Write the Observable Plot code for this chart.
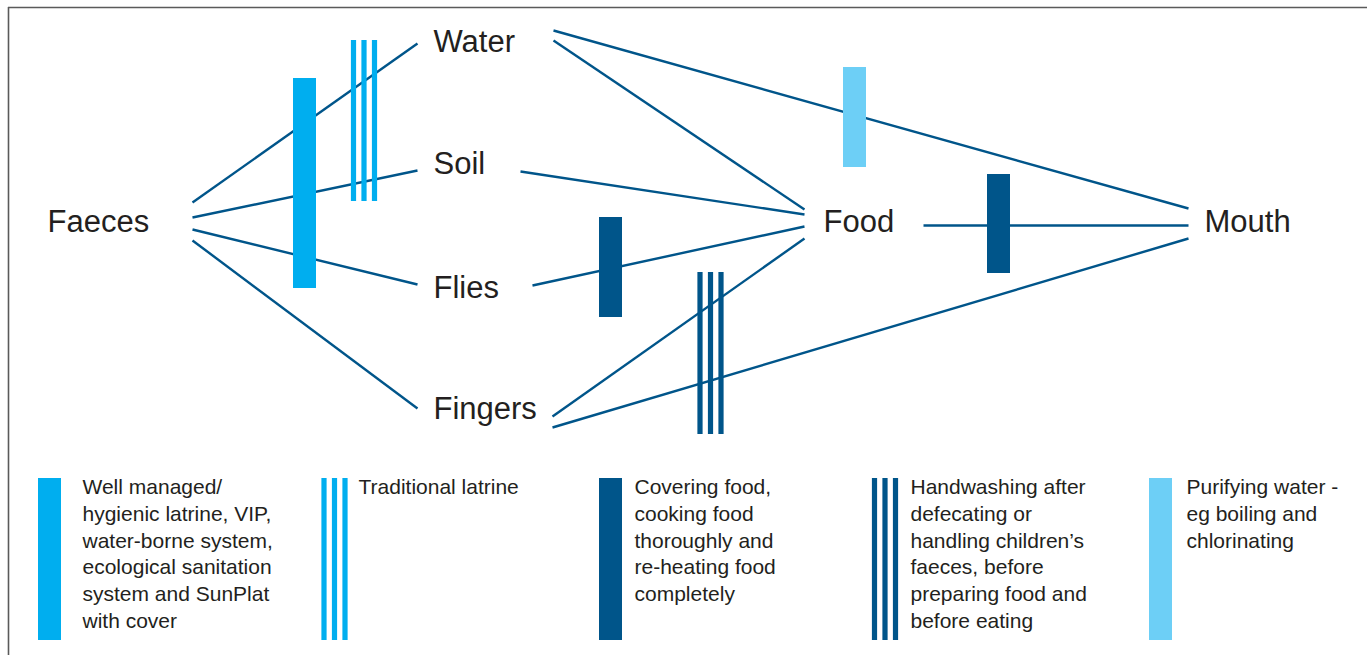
<!DOCTYPE html>
<html>
<head>
<meta charset="utf-8">
<script src="https://cdn.jsdelivr.net/npm/d3@7"></script>
<script src="https://cdn.jsdelivr.net/npm/@observablehq/plot@0.6"></script>
<style>
  html, body { margin: 0; padding: 0; background: #fff; }
  #chart svg { display: block; }
</style>
</head>
<body>
<div id="chart"></div>
<script>
// ---- Nodes of the F-diagram (label, anchor x, centre y in diagram units)
const nodeNames = ["Faeces", "Water", "Soil", "Flies", "Fingers", "Food", "Mouth"];
const nodeX = [47, 433, 433, 433, 433, 823, 1204];
const nodeY = [221.5, 41.5, 164, 287.5, 409, 221.5, 221.5];

// ---- Transmission routes (from, to, endpoints)
const linkFrom = ["Faeces", "Faeces", "Faeces", "Faeces", "Water", "Water", "Soil", "Flies", "Fingers", "Fingers", "Food"];
const linkTo   = ["Water", "Soil", "Flies", "Fingers", "Food", "Mouth", "Food", "Food", "Food", "Mouth", "Mouth"];
const linkX1 = [192, 192, 192, 192, 553, 553, 520, 532, 552, 552, 923];
const linkY1 = [202, 217, 229, 240, 40, 30, 171, 285, 416, 427, 225];
const linkX2 = [417, 417, 417, 417, 804, 1188, 804, 804, 804, 1188, 1188];
const linkY2 = [43, 170, 284, 408, 209, 208, 214, 226, 238, 238, 225];

// ---- Barriers placed on the routes
const barrierType = ["sanitation", "traditional", "food", "handwash", "water", "food"];
const barrierX  = [304.5, 364, 610.5, 710.5, 854.5, 998.5];
const barrierY1 = [78, 40, 217, 272, 67, 174];
const barrierY2 = [288, 201, 317, 434, 167, 273];

// ---- Legend
const legendType = ["sanitation", "traditional", "food", "handwash", "water"];
const legendX = [49.5, 334.5, 610.5, 885, 1160.5];
const legendTextX = [82, 358, 634, 910, 1186];
const legendText = [
  "Well managed/\nhygienic latrine, VIP,\nwater-borne system,\necological sanitation\nsystem and SunPlat\nwith cover",
  "Traditional latrine",
  "Covering food,\ncooking food\nthoroughly and\nre-heating food\ncompletely",
  "Handwashing after\ndefecating or\nhandling children\u2019s\nfaeces, before\npreparing food and\nbefore eating",
  "Purifying water -\neg boiling and\nchlorinating"
];

// ---- Styles
const typeColor = {sanitation: "#00AEEF", traditional: "#00AEEF", food: "#00558A", handwash: "#00558A", water: "#6DCFF6"};
const typeTriple = {sanitation: false, traditional: true, food: false, handwash: true, water: false};
const LINE = "#00558A";
const TEXT = "#231F20";
const FONT = "'Liberation Sans', Arial, Helvetica, sans-serif";

// expand a barrier into drawable bars
function bars(type, cx, y1, y2) {
  if (typeTriple[type]) {
    return [-10.5, 0, 10.5].map(o => ({type, x1: cx + o - 2.6, x2: cx + o + 2.6, y1, y2}));
  }
  return [{type, x1: cx - 11.5, x2: cx + 11.5, y1, y2}];
}

const nodes = nodeNames.map((n, i) => ({name: n, x: nodeX[i], y: nodeY[i]}));
const links = linkFrom.map((f, i) => ({from: f, to: linkTo[i], x1: linkX1[i], y1: linkY1[i], x2: linkX2[i], y2: linkY2[i]}));
const barrierBars = barrierType.flatMap((t, i) => bars(t, barrierX[i], barrierY1[i], barrierY2[i]));
const legendBars = legendType.flatMap((t, i) => bars(t, legendX[i], 478, 640));
const legendLabels = legendType.map((t, i) => ({type: t, x: legendTextX[i], y: 475, text: legendText[i]}));

const W = 1367, H = 655;
const chart = Plot.plot({
  width: W,
  height: H,
  margin: 0,
  x: {domain: [0, W], axis: null},
  y: {domain: [0, H], reverse: true, axis: null},
  style: {fontFamily: FONT, background: "#fff", overflow: "visible"},
  marks: [
    // frame (left and top edges visible)
    Plot.ruleX([8], {y1: 7, y2: H, stroke: "#5a5a5a", strokeWidth: 1.6}),
    Plot.ruleY([7], {x1: 8, x2: W, stroke: "#5a5a5a", strokeWidth: 1.6}),
    // routes
    Plot.link(links, {x1: "x1", y1: "y1", x2: "x2", y2: "y2", stroke: LINE, strokeWidth: 2.4}),
    // barriers
    Plot.rect(barrierBars, {x1: "x1", x2: "x2", y1: "y1", y2: "y2", fill: d => typeColor[d.type]}),
    // node labels
    Plot.text(nodes, {x: "x", y: "y", text: "name", textAnchor: "start", fontSize: 31, fill: TEXT}),
    // legend
    Plot.rect(legendBars, {x1: "x1", x2: "x2", y1: "y1", y2: "y2", fill: d => typeColor[d.type]}),
    Plot.text(legendLabels, {x: "x", y: "y", text: "text", textAnchor: "start", lineAnchor: "top", fontSize: 21, lineHeight: 1.27, fill: TEXT})
  ]
});
document.getElementById("chart").appendChild(chart);
</script>
</body>
</html>
